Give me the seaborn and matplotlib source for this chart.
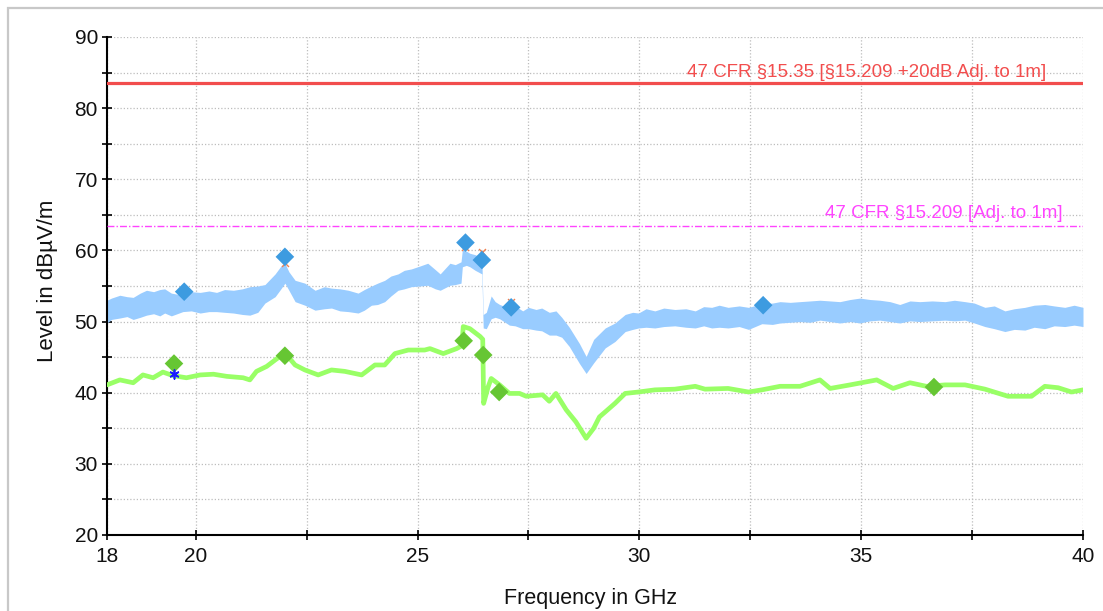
import numpy as np
import pandas as pd
import matplotlib
matplotlib.use("Agg")
import matplotlib.pyplot as plt
from matplotlib.patches import Rectangle
import seaborn as sns

# ---------------- data ----------------
# Peak trace (light blue band): frequency in GHz, lower and upper envelope in dBuV/m
pk_freq = [18.00, 18.10, 18.29, 18.45, 18.59, 18.75, 18.89, 19.05, 19.19, 19.30, 19.45,
           19.71, 19.90, 20.10, 20.30, 20.47, 20.65, 20.85, 21.05, 21.22, 21.40,
           21.56, 21.79, 21.92, 22.01, 22.10, 22.24, 22.46, 22.69, 22.90, 23.06,
           23.25, 23.44, 23.66, 23.80, 23.96, 24.10, 24.26, 24.40, 24.56, 24.70,
           24.86, 25.05, 25.23, 25.40, 25.51, 25.73, 25.85, 25.98, 26.01, 26.10,
           26.18, 26.30, 26.45, 26.48, 26.55, 26.66, 26.75, 26.85, 27.07, 27.20,
           27.37, 27.50, 27.67, 27.80, 27.97, 28.12, 28.25, 28.42, 28.65, 28.80,
           28.97, 29.23, 29.45, 29.68, 29.85, 29.98, 30.15, 30.35, 30.55, 30.80,
           31.05, 31.26, 31.45, 31.63, 31.80, 32.00, 32.25, 32.46, 32.76, 33.00,
           33.17, 33.40, 33.62, 33.85, 34.07, 34.30, 34.52, 34.75, 34.97, 35.20,
           35.42, 35.65, 35.87, 36.10, 36.32, 36.60, 36.89, 37.10, 37.34, 37.55,
           37.79, 38.00, 38.24, 38.45, 38.69, 38.90, 39.14, 39.35, 39.59, 39.80,
           40.00]
pk_lo = [49.8, 50.3, 50.5, 50.7, 50.3, 50.6, 50.9, 51.1, 50.8, 51.2, 50.8,
         51.4, 51.5, 51.2, 51.4, 51.4, 51.3, 51.2, 51.0, 50.9, 51.3,
         52.6, 53.5, 54.6, 55.4, 54.4, 52.8, 52.3, 51.6, 51.8, 51.9,
         51.5, 51.4, 51.2, 51.6, 52.3, 52.4, 52.8, 53.6, 54.4, 54.6,
         54.9, 55.0, 55.1, 54.6, 54.4, 55.1, 55.2, 55.4, 57.7, 57.9,
         57.7, 57.2, 56.7, 49.1, 49.0, 50.4, 50.6, 50.4, 49.5, 49.4,
         49.0, 49.0, 48.8, 48.7, 48.1, 48.1, 47.8, 46.5, 44.1, 42.7,
         44.2, 46.3, 47.2, 48.6, 48.9, 49.1, 49.2, 49.1, 49.3, 49.4,
         49.2, 49.1, 49.4, 49.1, 49.2, 49.1, 49.3, 48.9, 49.7, 49.6,
         49.8, 49.9, 50.0, 49.9, 50.2, 50.0, 49.8, 50.0, 49.8, 50.1,
         50.2, 50.0, 49.8, 50.1, 50.0, 50.1, 50.2, 50.1, 50.2, 49.8,
         49.3, 49.0, 48.6, 48.9, 48.8, 49.2, 49.0, 49.4, 49.3, 49.5,
         49.3]
pk_hi = [53.0, 53.3, 53.7, 53.5, 53.4, 54.0, 54.4, 54.2, 54.5, 54.6, 54.0,
         53.7, 54.2, 54.1, 54.3, 54.1, 54.5, 54.4, 54.6, 54.9, 55.0,
         55.2, 56.7, 57.8, 58.2, 57.0, 55.8, 55.4, 54.4, 54.9, 54.7,
         54.6, 54.4, 54.0, 54.5, 55.0, 55.4, 55.8, 56.4, 56.7, 57.2,
         57.4, 57.8, 58.2, 57.3, 56.7, 58.2, 58.0, 58.4, 60.1, 59.9,
         59.6, 59.4, 58.9, 51.0, 51.3, 53.6, 52.8, 52.4, 51.9, 52.2,
         51.5, 52.0, 51.7, 51.9, 51.3, 51.5, 50.6, 49.2, 46.9, 45.1,
         47.5, 49.1, 49.8, 51.0, 51.3, 51.2, 51.8, 51.5, 51.9, 51.7,
         51.8, 51.5, 52.1, 52.0, 52.3, 52.0, 52.2, 52.0, 52.5, 52.6,
         52.8, 52.7, 52.8, 52.9, 53.0, 52.9, 52.8, 53.1, 53.3, 53.1,
         53.0, 52.8, 52.4, 52.9, 52.8, 52.9, 52.8, 53.0, 52.8, 52.6,
         52.0, 52.2, 51.5, 51.8, 52.0, 52.3, 52.4, 52.2, 52.0, 52.3,
         52.0]

# Average trace (green)
av_freq = [18.00, 18.29, 18.59, 18.81, 19.04, 19.26, 19.49, 19.79, 20.10, 20.40,
           20.70, 21.07, 21.22, 21.37, 21.60, 21.79, 22.01, 22.24, 22.46, 22.76,
           23.06, 23.36, 23.74, 24.04, 24.26, 24.49, 24.79, 25.16, 25.28, 25.58,
           25.88, 26.00, 26.03, 26.18, 26.41, 26.47, 26.49, 26.59, 26.66, 26.85,
           27.07, 27.30, 27.45, 27.82, 27.97, 28.12, 28.35, 28.57, 28.80, 28.97,
           29.10, 29.23, 29.45, 29.68, 29.98, 30.35, 30.80, 31.26, 31.48, 32.00,
           32.46, 32.76, 33.17, 33.62, 34.07, 34.30, 34.75, 35.35, 35.72, 36.10,
           36.47, 36.89, 37.34, 37.79, 38.31, 38.84, 39.14, 39.44, 39.74, 40.00]
av_level = [41.1, 41.8, 41.4, 42.5, 42.1, 42.9, 42.4, 42.1, 42.5, 42.6,
            42.3, 42.1, 41.8, 43.0, 43.7, 44.6, 45.6, 43.9, 43.2, 42.5,
            43.2, 43.0, 42.5, 43.9, 43.9, 45.5, 46.0, 46.0, 46.2, 45.5,
            46.2, 46.6, 49.3, 49.0, 47.9, 47.5, 38.5, 40.8, 42.0, 41.1,
            39.9, 39.9, 39.5, 39.7, 38.8, 39.9, 37.6, 35.9, 33.6, 35.0,
            36.6, 37.3, 38.5, 39.9, 40.1, 40.4, 40.5, 40.9, 40.5, 40.6,
            40.1, 40.4, 40.9, 40.9, 41.8, 40.6, 41.1, 41.8, 40.6, 41.4,
            40.9, 41.1, 41.1, 40.5, 39.5, 39.5, 40.9, 40.7, 40.1, 40.4]

# Final measurement markers
pk_mark_freq = [19.74, 22.01, 26.08, 26.45, 27.11, 32.79]
pk_mark_level = [54.2, 59.1, 61.1, 58.65, 52.0, 52.3]
av_mark_freq = [19.51, 22.01, 26.04, 26.48, 26.84, 36.64]
av_mark_level = [44.1, 45.2, 47.3, 45.3, 40.1, 40.8]
star_freq = [19.51]
star_level = [42.6]
orange_freq = [22.01, 26.08, 26.45, 27.11]
orange_level = [58.3, 60.5, 59.8, 52.8]

# Limit lines
limit_high = 83.5
limit_low = 63.5
limit_high_label = "47 CFR §15.35 [§15.209 +20dB Adj. to 1m]"
limit_low_label = "47 CFR §15.209 [Adj. to 1m]"

x_ticks = [18, 20, 22.5, 25, 27.5, 30, 32.5, 35, 37.5, 40]
x_ticklabels = ["18", "20", "", "25", "", "30", "", "35", "", "40"]
y_ticks = [20, 25, 30, 35, 40, 45, 50, 55, 60, 65, 70, 75, 80, 85, 90]
y_ticklabels = ["20", "", "30", "", "40", "", "50", "", "60", "", "70", "", "80", "", "90"]

# ---------------- plotting ----------------
sns.set_theme(style="white")
plt.rcParams["font.family"] = ["Liberation Sans", "DejaVu Sans"]

W, H = 1103, 611
fig = plt.figure(figsize=(W / 100, H / 100), dpi=100)
fig.patch.set_facecolor("white")
fig.patches.append(Rectangle((8 / W, -0.2), 1.2, (H - 8) / H + 0.2, transform=fig.transFigure,
                             fill=False, edgecolor="#c8c8c8", linewidth=1.6))

ax = fig.add_axes([107 / W, 76 / H, 976 / W, 498 / H])
ax.set_facecolor("white")

pk = pd.DataFrame({"f": pk_freq, "lo": pk_lo, "hi": pk_hi})
av = pd.DataFrame({"f": av_freq, "v": av_level})

ax.fill_between(pk["f"], pk["lo"], pk["hi"], color="#99ccff", linewidth=0, zorder=2)
sns.lineplot(data=av, x="f", y="v", color="#99ff66", linewidth=3.4, ax=ax, zorder=3,
             estimator=None, sort=False)

ax.axhline(limit_high, color="#f24d4d", linewidth=2.3, zorder=4)
ax.axhline(limit_low, color="#ff44ff", linewidth=1.0, linestyle=(0, (5, 1.5, 1, 1.5)), zorder=4)
ax.text(39.17, limit_high + 0.35, limit_high_label, color="#f24d4d", fontsize=13.5,
        ha="right", va="bottom")
ax.text(39.53, limit_low + 0.45, limit_low_label, color="#ff44ff", fontsize=13.5,
        ha="right", va="bottom")

sns.scatterplot(x=orange_freq, y=orange_level, marker="x", color="#f08050", s=25,
                linewidth=1.0, ax=ax, zorder=5)
sns.scatterplot(x=pk_mark_freq, y=pk_mark_level, marker="D", color="#3d9be0", s=90,
                edgecolor="none", ax=ax, zorder=6)
sns.scatterplot(x=av_mark_freq, y=av_mark_level, marker="D", color="#66c633", s=90,
                edgecolor="none", ax=ax, zorder=6)
sns.scatterplot(x=star_freq, y=star_level, marker=(6, 2, 0), color="#1a1aff", s=40,
                linewidth=1.2, ax=ax, zorder=6)

ax.set_xlim(18, 40)
ax.set_ylim(20, 90)
ax.set_xticks(x_ticks)
ax.set_xticklabels(x_ticklabels)
ax.set_yticks(y_ticks)
ax.set_yticklabels(y_ticklabels)
ax.tick_params(axis="both", direction="inout", length=7, width=1.2, colors="black",
               labelsize=15, labelcolor="#111111")
ax.tick_params(axis="x", pad=5)
ax.tick_params(axis="y", pad=3)
ax.xaxis.set_ticks_position("bottom")
ax.yaxis.set_ticks_position("left")

ax.grid(True, color="#bdbdbd", linewidth=0.9, linestyle=(0, (1, 1.6)), zorder=1)
ax.set_axisbelow(True)
for side in ["top", "right"]:
    ax.spines[side].set_visible(False)
for side in ["left", "bottom"]:
    ax.spines[side].set_color("black")
    ax.spines[side].set_linewidth(1.5)

ax.set_xlabel("Frequency in GHz", fontsize=15.5, color="#111111")
ax.set_ylabel("Level in dBµV/m", fontsize=16, color="#111111")
ax.xaxis.set_label_coords(0.495, -0.106)
ax.xaxis.label.set_va("top")
ax.yaxis.set_label_coords(-0.050, 0.51)

fig.savefig("out.png", dpi=100)
